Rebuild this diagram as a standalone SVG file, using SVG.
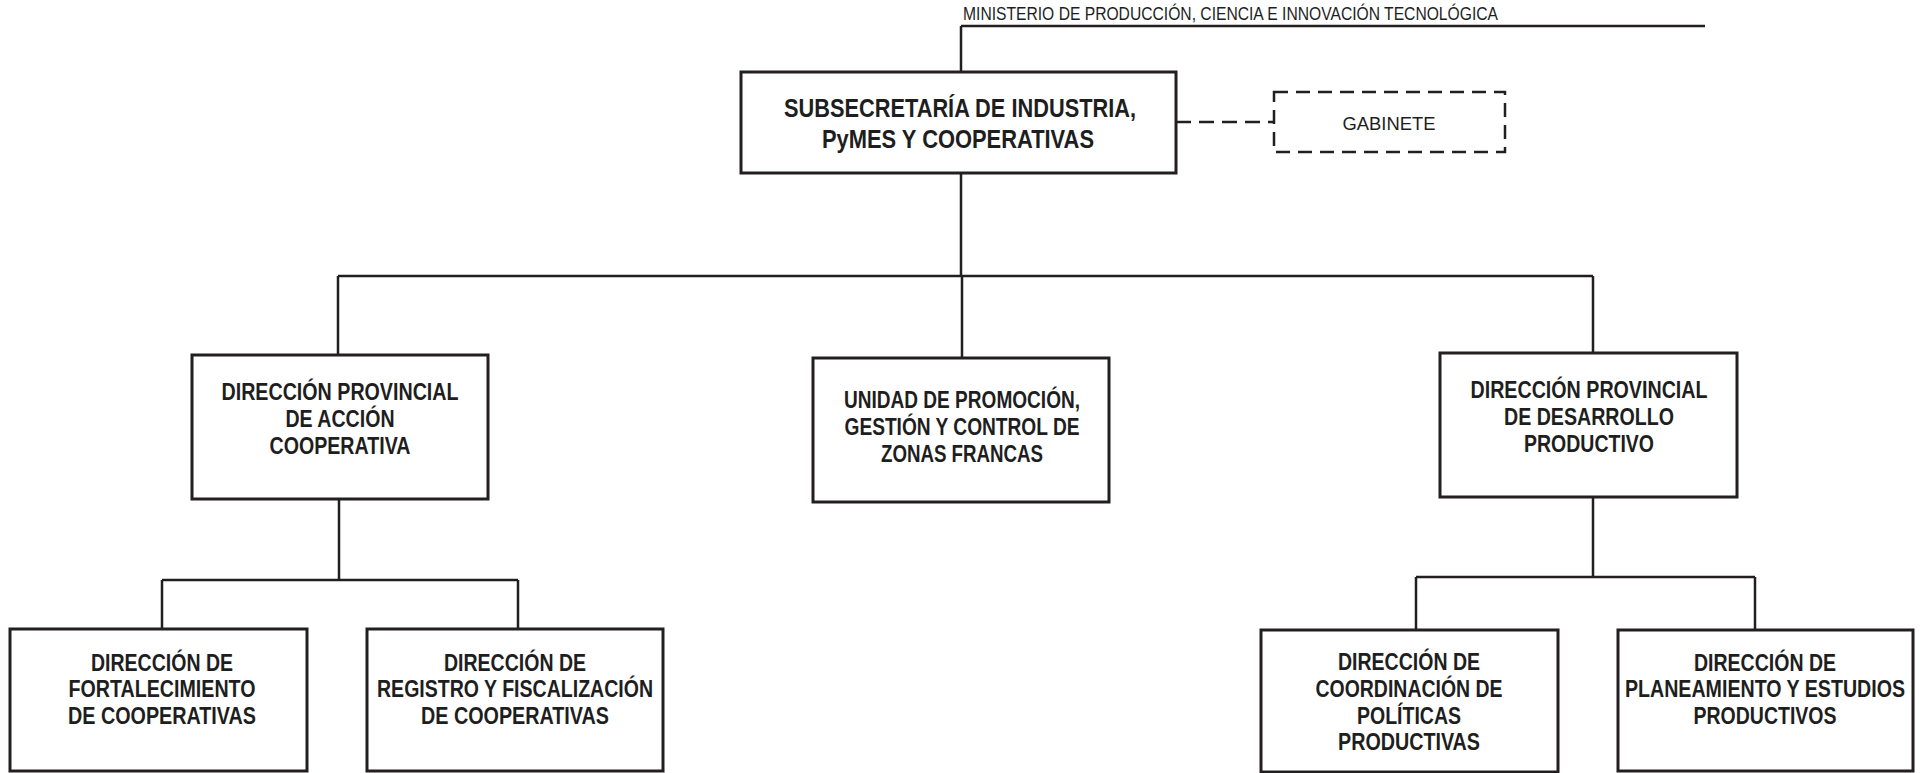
<svg xmlns="http://www.w3.org/2000/svg" width="1925" height="773" viewBox="0 0 1925 773">
<style>
.box{fill:#fff;stroke:#231f20;stroke-width:3}
.dbox{fill:#fff;stroke:#231f20;stroke-width:2.5;stroke-dasharray:14 8}
.ln{fill:none;stroke:#231f20;stroke-width:2.5}
.dl{fill:none;stroke:#231f20;stroke-width:2.5;stroke-dasharray:15 8}
.b{font-family:"Liberation Sans",Arial,sans-serif;font-weight:bold;font-size:24px;fill:#1e1e1e;text-anchor:middle}
.s{font-size:26px}
.r{font-family:"Liberation Sans",Arial,sans-serif;font-size:18px;fill:#1e1e1e}
</style>
<rect width="1925" height="773" fill="#fff"/>
<g id="connectors">
<path class="ln" d="M961,26 H1705 M961,26 V72"/>
<path class="dl" d="M1176,122 H1274"/>
<path class="ln" d="M961,173 V276 M338,276 H1593 M338,276 V355 M962,276 V358 M1593,276 V353"/>
<path class="ln" d="M339,499 V580 M162,580 H518 M162,580 V629 M518,580 V629"/>
<path class="ln" d="M1593,497 V577 M1416,577 H1755 M1416,577 V630 M1755,577 V630"/>
</g>
<g id="ministerio">
<text class="r" x="963" y="20" textLength="535" lengthAdjust="spacingAndGlyphs">MINISTERIO DE PRODUCCIÓN, CIENCIA E INNOVACIÓN TECNOLÓGICA</text>
</g>
<g id="subsecretaria">
<rect class="box" x="741" y="72" width="435" height="101"/>
<text class="b s" x="960" y="117" textLength="352" lengthAdjust="spacingAndGlyphs">SUBSECRETARÍA DE INDUSTRIA,</text>
<text class="b s" x="958" y="148" textLength="272" lengthAdjust="spacingAndGlyphs">PyMES Y COOPERATIVAS</text>
</g>
<g id="gabinete">
<rect class="dbox" x="1274" y="92" width="231" height="60"/>
<text class="r" x="1389" y="130" text-anchor="middle" textLength="93" lengthAdjust="spacingAndGlyphs">GABINETE</text>
</g>
<g id="dp-accion-cooperativa">
<rect class="box" x="192" y="355" width="296" height="144"/>
<text class="b" x="340" y="400" textLength="237" lengthAdjust="spacingAndGlyphs">DIRECCIÓN PROVINCIAL</text>
<text class="b" x="340" y="427" textLength="109" lengthAdjust="spacingAndGlyphs">DE ACCIÓN</text>
<text class="b" x="340" y="454" textLength="141" lengthAdjust="spacingAndGlyphs">COOPERATIVA</text>
</g>
<g id="unidad-zonas-francas">
<rect class="box" x="813" y="358" width="296" height="144"/>
<text class="b" x="962" y="408" textLength="236" lengthAdjust="spacingAndGlyphs">UNIDAD DE PROMOCIÓN,</text>
<text class="b" x="962" y="435" textLength="235" lengthAdjust="spacingAndGlyphs">GESTIÓN Y CONTROL DE</text>
<text class="b" x="962" y="462" textLength="162" lengthAdjust="spacingAndGlyphs">ZONAS FRANCAS</text>
</g>
<g id="dp-desarrollo-productivo">
<rect class="box" x="1440" y="353" width="297" height="144"/>
<text class="b" x="1589" y="398" textLength="237" lengthAdjust="spacingAndGlyphs">DIRECCIÓN PROVINCIAL</text>
<text class="b" x="1589" y="425" textLength="170" lengthAdjust="spacingAndGlyphs">DE DESARROLLO</text>
<text class="b" x="1589" y="452" textLength="130" lengthAdjust="spacingAndGlyphs">PRODUCTIVO</text>
</g>
<g id="d-fortalecimiento">
<rect class="box" x="10" y="629" width="297" height="142"/>
<text class="b" x="162" y="671" textLength="142" lengthAdjust="spacingAndGlyphs">DIRECCIÓN DE</text>
<text class="b" x="162" y="697" textLength="187" lengthAdjust="spacingAndGlyphs">FORTALECIMIENTO</text>
<text class="b" x="162" y="724" textLength="188" lengthAdjust="spacingAndGlyphs">DE COOPERATIVAS</text>
</g>
<g id="d-registro">
<rect class="box" x="367" y="629" width="296" height="142"/>
<text class="b" x="515" y="671" textLength="142" lengthAdjust="spacingAndGlyphs">DIRECCIÓN DE</text>
<text class="b" x="515" y="697" textLength="276" lengthAdjust="spacingAndGlyphs">REGISTRO Y FISCALIZACIÓN</text>
<text class="b" x="515" y="724" textLength="188" lengthAdjust="spacingAndGlyphs">DE COOPERATIVAS</text>
</g>
<g id="d-coordinacion">
<rect class="box" x="1261" y="630" width="297" height="142"/>
<text class="b" x="1409" y="670" textLength="142" lengthAdjust="spacingAndGlyphs">DIRECCIÓN DE</text>
<text class="b" x="1409" y="697" textLength="187" lengthAdjust="spacingAndGlyphs">COORDINACIÓN DE</text>
<text class="b" x="1409" y="724" textLength="104" lengthAdjust="spacingAndGlyphs">POLÍTICAS</text>
<text class="b" x="1409" y="750" textLength="142" lengthAdjust="spacingAndGlyphs">PRODUCTIVAS</text>
</g>
<g id="d-planeamiento">
<rect class="box" x="1618" y="630" width="295" height="141"/>
<text class="b" x="1765" y="671" textLength="142" lengthAdjust="spacingAndGlyphs">DIRECCIÓN DE</text>
<text class="b" x="1765" y="697" textLength="280" lengthAdjust="spacingAndGlyphs">PLANEAMIENTO Y ESTUDIOS</text>
<text class="b" x="1765" y="724" textLength="143" lengthAdjust="spacingAndGlyphs">PRODUCTIVOS</text>
</g>
</svg>
